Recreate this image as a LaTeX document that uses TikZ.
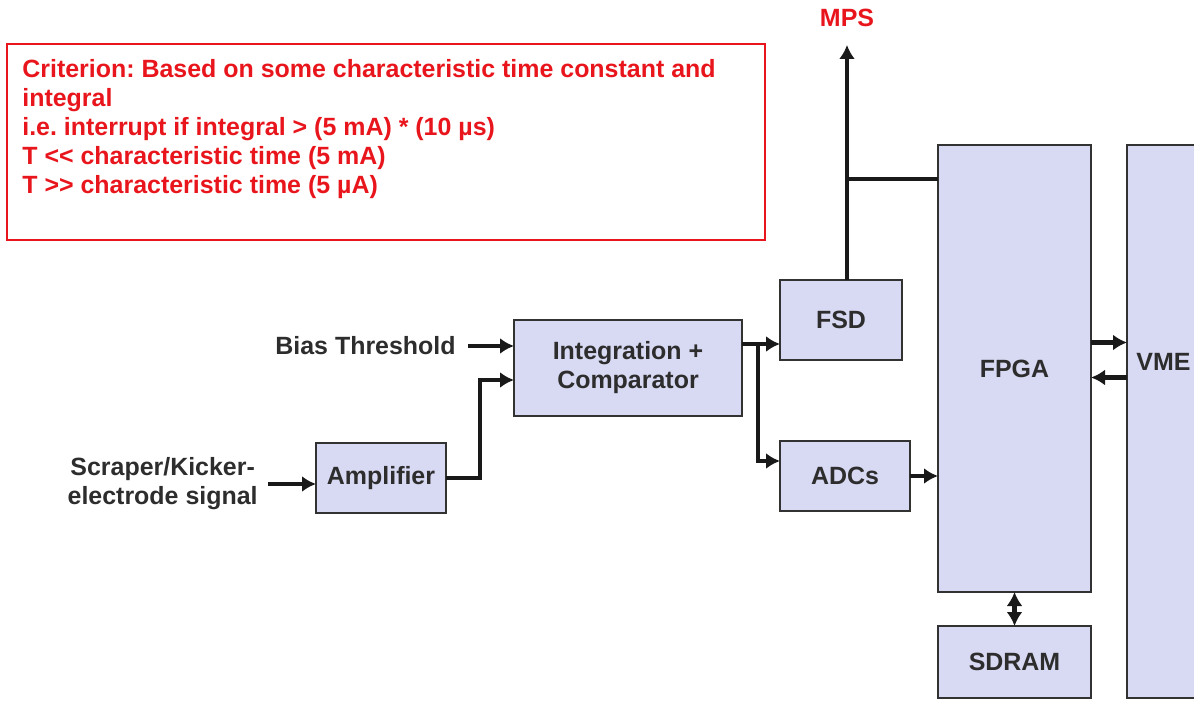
\documentclass[tikz,border=0pt]{standalone}
\usepackage{fontspec}
\setmainfont{Liberation Sans}
\usetikzlibrary{arrows.meta, positioning}
\definecolor{boxfill}{RGB}{216,217,243}
\definecolor{boxedge}{RGB}{50,50,50}
\definecolor{inktext}{RGB}{45,45,45}
\definecolor{alarmred}{RGB}{232,22,28}
\newcommand{\diagfont}{\bfseries\fontsize{14.2}{16.5}\selectfont}
\frenchspacing
\tikzset{
  block/.style = {rectangle, draw=boxedge, line width=1pt, outer sep=0pt, fill=boxfill, align=center, text=inktext, font=\diagfont},
  sigtext/.style = {align=center, text=inktext, inner sep=0.2cm, font=\diagfont},
  notebox/.style = {rectangle, draw=alarmred, line width=1pt, outer sep=0pt, minimum width=15.16cm, minimum height=3.92cm},
  notetext/.style = {align=left, text=alarmred, inner sep=0pt, font=\diagfont},
  mpslbl/.style = {text=alarmred, inner sep=0.36cm, font=\diagfont},
  line/.style = {-{Latex[length=0.28cm,width=0.32cm]}, line width=2.4pt, draw=black!90},
  dline/.style = {{Latex[length=0.28cm,width=0.32cm]}-{Latex[length=0.28cm,width=0.32cm]}, line width=2.4pt, draw=black!90},
  link/.style = {line width=2.4pt, draw=black!90}
}

\begin{document}
\begin{tikzpicture}
\useasboundingbox (0,0) rectangle (23.88,-14.04);

% criterion note
\node[notebox, anchor=north west] (crit) at (0.14,-0.88) {};
\node[notetext, anchor=north west] (crittext) at ([xshift=0.3cm,yshift=-0.3cm]crit.north west)
  {Criterion: Based on some characteristic time constant and\\
   integral\\
   i.e. interrupt if integral > (5 mA) * (10 µs)\\
   T <\kern0pt< characteristic time (5 mA)\\
   T >\kern0pt> characteristic time (5 µA)};

% signal chain
\node[block, minimum width=2.6cm, minimum height=1.4cm] (amp) at (7.62,-9.56) {Amplifier};
\node[block, minimum width=4.56cm, minimum height=1.92cm, above right=0.54cm and 1.36cm of amp] (integ) {Integration +\\ Comparator};
\node[block, minimum width=2.44cm, minimum height=1.6cm, above right=-0.8cm and 0.76cm of integ] (fsd) {FSD};
\node[block, minimum width=2.6cm, minimum height=1.4cm, below=1.62cm of fsd.south west, anchor=north west] (adc) {ADCs};
\node[block, minimum width=3.06cm, minimum height=8.94cm, above right=2.7cm and 0.72cm of fsd.north east, anchor=north west] (fpga) {FPGA};
\node[block, minimum width=3.06cm, minimum height=1.44cm, below=0.68cm of fpga] (sdram) {SDRAM};
\node[block, minimum width=1.46cm, minimum height=11.06cm, right=0.72cm of fpga.north east, anchor=north west,
  label={[text=inktext, font=\diagfont, inner sep=0pt, yshift=1.2cm]center:VME}] (vme) {};

% inputs and outputs
\node[sigtext, inner sep=0.24cm, left=0.92cm of integ.west, yshift=0.44cm] (bias) {Bias Threshold};
\node[sigtext, left=0.96cm of amp.west, yshift=-0.12cm] (scraper) {Scraper/Kicker-\\ electrode signal};
\coordinate (mpsx) at ([xshift=0.12cm]fsd.north);
\node[mpslbl, above=4.7cm of mpsx] (mps) {MPS};
\coordinate (tap) at ([yshift=-0.68cm]fpga.north west);
\coordinate (split) at ([xshift=0.32cm,yshift=0.48cm]integ.east);
\coordinate (toVme) at ([yshift=0.52cm]fpga.east);
\coordinate (fromVme) at ([yshift=-0.18cm]fpga.east);

\draw[line] (scraper) -- (scraper -| amp.west);
\draw[line] (bias) -- (bias -| integ.west);
\draw[line] (amp.east) -- ++(0.68,0) |- ([yshift=-0.24cm]integ.west);
\draw[line] ([yshift=0.48cm]integ.east) -- (split -| fsd.west);
\draw[line] (split) |- ([yshift=0.3cm]adc.west);
\draw[line] (adc) -- (adc -| fpga.west);
\draw[line] (mpsx) -- (mps.south);
\draw[link] (mpsx |- tap) -- (tap);
\draw[line] (toVme) -- (toVme -| vme.west);
\draw[line] (fromVme -| vme.west) -- (fromVme);
\draw[dline] (fpga) -- (sdram);
\end{tikzpicture}
\end{document}
